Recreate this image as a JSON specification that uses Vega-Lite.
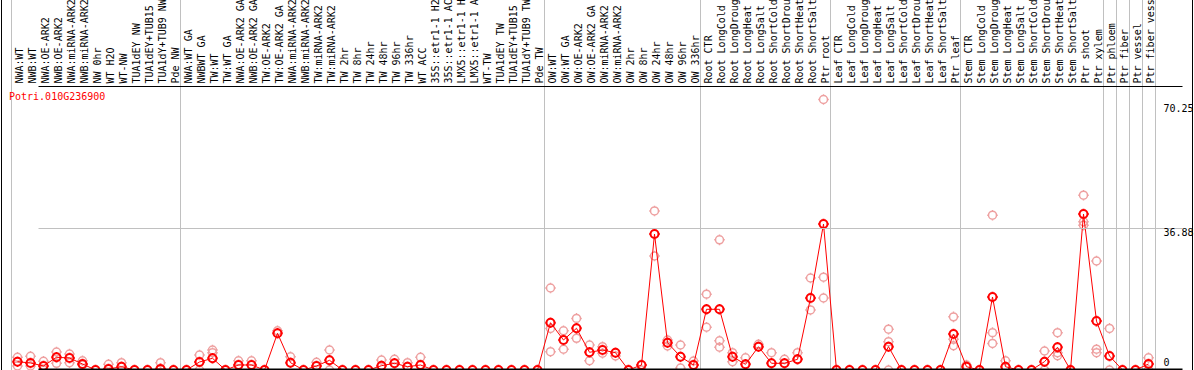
{
  "$schema": "https://vega.github.io/schema/vega-lite/v6.json",
  "autosize": "none",
  "width": 1191,
  "height": 372,
  "padding": {"left": 1, "top": -2, "right": 2, "bottom": 0},
  "background": "white",
  "config": {"view": {"stroke": "black", "strokeWidth": 1}, "font": "DejaVu Sans Mono"},
  "datasets": {
    "means": [
      {"sample": "NWA:WT", "mean": 2.16}, {"sample": "NWB:WT", "mean": 1.82}, {"sample": "NWA:OE-ARK2", "mean": 1.04}, {"sample": "NWB:OE-ARK2", "mean": 3.3},
      {"sample": "NWA:miRNA-ARK2", "mean": 3.12}, {"sample": "NWB:miRNA-ARK2", "mean": 1.56}, {"sample": "NW 0hr", "mean": 0}, {"sample": "WT H2O", "mean": 0.26},
      {"sample": "WT-NW", "mean": 0.86}, {"sample": "TUA1dEY NW", "mean": 0}, {"sample": "TUA1dEY+TUB15 NW", "mean": 0}, {"sample": "TUA1dY+TUB9 NW", "mean": 0.3},
      {"sample": "Pde NW", "mean": 0}, {"sample": "NWA:WT GA", "mean": 0}, {"sample": "NWBWT GA", "mean": 2.08}, {"sample": "TW:WT", "mean": 3.04},
      {"sample": "TW:WT GA", "mean": 0}, {"sample": "NWA:OE-ARK2 GA", "mean": 1.3}, {"sample": "NWB:OE-ARK2 GA", "mean": 1.3}, {"sample": "TW:OE-ARK2", "mean": 0},
      {"sample": "TW:OE-ARK2 GA", "mean": 9.53}, {"sample": "NWA:miRNA-ARK2 GA", "mean": 1.9}, {"sample": "NWB:miRNA-ARK2 GA", "mean": 0}, {"sample": "TW:miRNA-ARK2", "mean": 1.04},
      {"sample": "TW:miRNA-ARK2 GA", "mean": 2.52}, {"sample": "TW 2hr", "mean": 0}, {"sample": "TW 8hr", "mean": 0}, {"sample": "TW 24hr", "mean": 0},
      {"sample": "TW 48hr", "mean": 1.12}, {"sample": "TW 96hr", "mean": 1.74}, {"sample": "TW 336hr", "mean": 0.86}, {"sample": "WT ACC", "mean": 1.3},
      {"sample": "35S::etr1-1 H2O", "mean": 0}, {"sample": "35S::etr1-1 ACC", "mean": 0}, {"sample": "LMX5::etr1-1 H2O", "mean": 0}, {"sample": "LMX5::etr1-1 ACC", "mean": 0},
      {"sample": "WT-TW", "mean": 0}, {"sample": "TUA1dEY TW", "mean": 0}, {"sample": "TUA1dEY+TUB15 TW", "mean": 0}, {"sample": "TUA1dY+TUB9 TW", "mean": 0},
      {"sample": "Pde TW", "mean": 0}, {"sample": "OW:WT", "mean": 12.28}, {"sample": "OW:WT GA", "mean": 7.79}, {"sample": "OW:OE-ARK2", "mean": 10.83},
      {"sample": "OW:OE-ARK2 GA", "mean": 4.6}, {"sample": "OW:miRNA-ARK2", "mean": 5.19}, {"sample": "OW:miRNA-ARK2 GA", "mean": 4.49}, {"sample": "OW 2hr", "mean": 0},
      {"sample": "OW 8hr", "mean": 1.3}, {"sample": "OW 24hr", "mean": 35.3}, {"sample": "OW 48hr", "mean": 7.09}, {"sample": "OW 96hr", "mean": 3.45},
      {"sample": "OW 336hr", "mean": 1.3}, {"sample": "Root CTR", "mean": 15.76}, {"sample": "Root LongCold", "mean": 15.76}, {"sample": "Root LongDrought", "mean": 3.45},
      {"sample": "Root LongHeat", "mean": 1.48}, {"sample": "Root LongSalt", "mean": 6.05}, {"sample": "Root ShortCold", "mean": 1.74}, {"sample": "Root ShortDrought", "mean": 1.74},
      {"sample": "Root ShortHeat", "mean": 2.78}, {"sample": "Root ShortSalt", "mean": 18.7}, {"sample": "Ptr root", "mean": 37.9}, {"sample": "Leaf CTR", "mean": 0},
      {"sample": "Leaf LongCold", "mean": 0}, {"sample": "Leaf LongDrought", "mean": 0}, {"sample": "Leaf LongHeat", "mean": 0}, {"sample": "Leaf LongSalt", "mean": 6.05},
      {"sample": "Leaf ShortCold", "mean": 0}, {"sample": "Leaf ShortDrought", "mean": 0}, {"sample": "Leaf ShortHeat", "mean": 0}, {"sample": "Leaf ShortSalt", "mean": 0},
      {"sample": "Ptr leaf", "mean": 9.35}, {"sample": "Stem CTR", "mean": 0.86}, {"sample": "Stem LongCold", "mean": 0}, {"sample": "Stem LongDrought", "mean": 18.96},
      {"sample": "Stem LongHeat", "mean": 0.86}, {"sample": "Stem LongSalt", "mean": 0}, {"sample": "Stem ShortCold", "mean": 0}, {"sample": "Stem ShortDrought", "mean": 2.16},
      {"sample": "Stem ShortHeat", "mean": 5.89}, {"sample": "Stem ShortSalt", "mean": 0}, {"sample": "Ptr shoot", "mean": 40.5}, {"sample": "Ptr xylem", "mean": 12.7},
      {"sample": "Ptr phloem", "mean": 3.64}, {"sample": "Ptr fiber", "mean": 0}, {"sample": "Ptr vessel", "mean": 0}, {"sample": "Ptr fiber vessel", "mean": 1.56}
    ],
    "reps": [
      {"sample": "NWA:WT", "value": 3.3}, {"sample": "NWA:WT", "value": 1.04},
      {"sample": "NWB:WT", "value": 3.56}, {"sample": "NWB:WT", "value": 1.04},
      {"sample": "NWA:OE-ARK2", "value": 2.26}, {"sample": "NWA:OE-ARK2", "value": 0},
      {"sample": "NWB:OE-ARK2", "value": 4.67}, {"sample": "NWB:OE-ARK2", "value": 1.74},
      {"sample": "NWA:miRNA-ARK2", "value": 4.15}, {"sample": "NWA:miRNA-ARK2", "value": 1.9},
      {"sample": "NWB:miRNA-ARK2", "value": 2.41}, {"sample": "NWB:miRNA-ARK2", "value": 1.3},
      {"sample": "WT H2O", "value": 1.48}, {"sample": "WT-NW", "value": 1.9}, {"sample": "TUA1dY+TUB9 NW", "value": 1.9},
      {"sample": "NWBWT GA", "value": 3.9}, {"sample": "NWBWT GA", "value": 0},
      {"sample": "TW:WT", "value": 5.19}, {"sample": "TW:WT", "value": 4.49},
      {"sample": "NWA:OE-ARK2 GA", "value": 2.41}, {"sample": "NWB:OE-ARK2 GA", "value": 2.41},
      {"sample": "TW:OE-ARK2 GA", "value": 10.2}, {"sample": "NWA:miRNA-ARK2 GA", "value": 3.45},
      {"sample": "TW:miRNA-ARK2", "value": 2.0}, {"sample": "TW:miRNA-ARK2 GA", "value": 5.19}, {"sample": "TW:miRNA-ARK2 GA", "value": 0},
      {"sample": "TW 48hr", "value": 2.6}, {"sample": "TW 96hr", "value": 2.78}, {"sample": "TW 336hr", "value": 1.9}, {"sample": "WT ACC", "value": 3.3},
      {"sample": "OW:WT", "value": 21.3}, {"sample": "OW:WT", "value": 4.75}, {"sample": "OW:WT", "value": 10.8},
      {"sample": "OW:WT GA", "value": 10.2}, {"sample": "OW:WT GA", "value": 5.38},
      {"sample": "OW:OE-ARK2", "value": 13.4}, {"sample": "OW:OE-ARK2", "value": 8.23},
      {"sample": "OW:OE-ARK2 GA", "value": 6.49}, {"sample": "OW:OE-ARK2 GA", "value": 2.41},
      {"sample": "OW:miRNA-ARK2", "value": 6.05}, {"sample": "OW:miRNA-ARK2", "value": 4.34},
      {"sample": "OW:miRNA-ARK2 GA", "value": 3.64}, {"sample": "OW 8hr", "value": 0},
      {"sample": "OW 24hr", "value": 41.3}, {"sample": "OW 24hr", "value": 29.6},
      {"sample": "OW 48hr", "value": 6.23}, {"sample": "OW 48hr", "value": 7.79},
      {"sample": "OW 96hr", "value": 6.49}, {"sample": "OW 96hr", "value": 0.5},
      {"sample": "OW 336hr", "value": 2.34},
      {"sample": "Root CTR", "value": 11.1}, {"sample": "Root CTR", "value": 19.7},
      {"sample": "Root LongCold", "value": 7.6}, {"sample": "Root LongCold", "value": 5.9}, {"sample": "Root LongCold", "value": 33.8},
      {"sample": "Root LongDrought", "value": 4.49}, {"sample": "Root LongDrought", "value": 2.16},
      {"sample": "Root LongHeat", "value": 3.19}, {"sample": "Root LongSalt", "value": 6.67}, {"sample": "Root ShortCold", "value": 4.49},
      {"sample": "Root ShortDrought", "value": 2.78}, {"sample": "Root ShortHeat", "value": 4.49},
      {"sample": "Root ShortSalt", "value": 23.9}, {"sample": "Root ShortSalt", "value": 15.6},
      {"sample": "Ptr root", "value": 70.25}, {"sample": "Ptr root", "value": 24.1}, {"sample": "Ptr root", "value": 18.7},
      {"sample": "Leaf LongSalt", "value": 10.6}, {"sample": "Leaf LongSalt", "value": 7.35}, {"sample": "Leaf LongSalt", "value": 0},
      {"sample": "Ptr leaf", "value": 13.8}, {"sample": "Ptr leaf", "value": 7.97}, {"sample": "Ptr leaf", "value": 6.3},
      {"sample": "Stem CTR", "value": 1.3},
      {"sample": "Stem LongDrought", "value": 40.2}, {"sample": "Stem LongDrought", "value": 9.7}, {"sample": "Stem LongDrought", "value": 6.9},
      {"sample": "Stem LongHeat", "value": 2.41},
      {"sample": "Stem ShortDrought", "value": 4.93}, {"sample": "Stem ShortDrought", "value": 0},
      {"sample": "Stem ShortHeat", "value": 9.69}, {"sample": "Stem ShortHeat", "value": 4.49}, {"sample": "Stem ShortHeat", "value": 3.71},
      {"sample": "Ptr shoot", "value": 45.4}, {"sample": "Ptr shoot", "value": 38.5}, {"sample": "Ptr shoot", "value": 37.6},
      {"sample": "Ptr xylem", "value": 28.3}, {"sample": "Ptr xylem", "value": 5.4}, {"sample": "Ptr xylem", "value": 4.5},
      {"sample": "Ptr phloem", "value": 10.8}, {"sample": "Ptr phloem", "value": 0},
      {"sample": "Ptr fiber vessel", "value": 3.19}, {"sample": "Ptr fiber vessel", "value": 0}
    ]
  },
  "layer": [
    {
      "data": {"name": "reps"},
      "mark": {"type": "point", "shape": "M0.75,0A0.75,0.75,0,1,1,-0.75,0A0.75,0.75,0,1,1,0.75,0M0,-0.75L0,-1M0,0.75L0,1M-0.75,0L-1,0M0.75,0L1,0", "filled": false, "size": 112, "stroke": "#eea0a0", "strokeWidth": 1.5, "opacity": 1, "clip": true},
      "encoding": {
        "x": {
          "field": "sample", "type": "nominal",
          "scale": {
            "type": "band", "range": [10, 1154], "paddingInner": 0, "paddingOuter": 0,
            "domain": ["NWA:WT","NWB:WT","NWA:OE-ARK2","NWB:OE-ARK2","NWA:miRNA-ARK2","NWB:miRNA-ARK2","NW 0hr","WT H2O","WT-NW","TUA1dEY NW","TUA1dEY+TUB15 NW","TUA1dY+TUB9 NW","Pde NW","NWA:WT GA","NWBWT GA","TW:WT","TW:WT GA","NWA:OE-ARK2 GA","NWB:OE-ARK2 GA","TW:OE-ARK2","TW:OE-ARK2 GA","NWA:miRNA-ARK2 GA","NWB:miRNA-ARK2 GA","TW:miRNA-ARK2","TW:miRNA-ARK2 GA","TW 2hr","TW 8hr","TW 24hr","TW 48hr","TW 96hr","TW 336hr","WT ACC","35S::etr1-1 H2O","35S::etr1-1 ACC","LMX5::etr1-1 H2O","LMX5::etr1-1 ACC","WT-TW","TUA1dEY TW","TUA1dEY+TUB15 TW","TUA1dY+TUB9 TW","Pde TW","OW:WT","OW:WT GA","OW:OE-ARK2","OW:OE-ARK2 GA","OW:miRNA-ARK2","OW:miRNA-ARK2 GA","OW 2hr","OW 8hr","OW 24hr","OW 48hr","OW 96hr","OW 336hr","Root CTR","Root LongCold","Root LongDrought","Root LongHeat","Root LongSalt","Root ShortCold","Root ShortDrought","Root ShortHeat","Root ShortSalt","Ptr root","Leaf CTR","Leaf LongCold","Leaf LongDrought","Leaf LongHeat","Leaf LongSalt","Leaf ShortCold","Leaf ShortDrought","Leaf ShortHeat","Leaf ShortSalt","Ptr leaf","Stem CTR","Stem LongCold","Stem LongDrought","Stem LongHeat","Stem LongSalt","Stem ShortCold","Stem ShortDrought","Stem ShortHeat","Stem ShortSalt","Ptr shoot","Ptr xylem","Ptr phloem","Ptr fiber","Ptr vessel","Ptr fiber vessel"]
          },
          "axis": {
            "orient": "top", "offset": -88, "title": null, "domain": false, "ticks": false,
            "labelAngle": 270, "labelAlign": "left", "labelBaseline": "middle", "labelPadding": 3, "labelOffset": 1.5,
            "labelFont": "DejaVu Sans Mono", "labelFontSize": 10, "labelColor": "black", "labelOverlap": false,
            "tickBand": "extent", "grid": true, "gridColor": "#c0c0c0", "gridWidth": 1,
            "gridOpacity": {"condition": {"test": "datum.extra || indexof(['Pde NW','Pde TW','OW 336hr','Ptr root','Ptr leaf','Ptr xylem','Ptr phloem','Ptr fiber','Ptr vessel','Ptr fiber vessel'], datum.value) >= 0", "value": 1}, "value": 0}
          }
        },
        "y": {
          "field": "value", "type": "quantitative",
          "scale": {"domain": [0, 96.6], "zero": false, "nice": false},
          "axis": {
            "orient": "right", "offset": -30, "title": null, "domain": false, "ticks": false, "zindex": 1,
            "values": [0, 0.26, 36.88, 70.25, 73.75], "format": ".4~r",
            "labelFont": "DejaVu Sans Mono", "labelFontSize": 10, "labelColor": "black", "labelAlign": "left", "labelPadding": 1,
            "labelFlush": false, "labelOverlap": false,
            "labelBaseline": {"condition": {"test": "datum.value == 0", "value": "alphabetic"}, "value": "top"},
            "labelOffset": {"condition": [{"test": "datum.value == 0", "value": -4.5}, {"test": "datum.value == 70.25", "value": 4}], "value": 0},
            "labelOpacity": {"condition": {"test": "datum.value > 73 || (datum.value > 0 && datum.value < 1)", "value": 0}, "value": 1},
            "grid": true,
            "gridWidth": {"condition": {"test": "datum.value > 0 && datum.value < 1", "value": 2}, "value": 1},
            "gridColor": {"condition": {"test": "datum.value > 73 || (datum.value > 0 && datum.value < 1)", "value": "black"}, "value": "#c0c0c0"},
            "gridOpacity": {"condition": {"test": "datum.value == 36.88 || datum.value > 73 || (datum.value > 0 && datum.value < 1)", "value": 1}, "value": 0}
          }
        }
      }
    },
    {
      "data": {"name": "means"},
      "mark": {"type": "line", "color": "#ff0000", "strokeWidth": 1, "clip": true},
      "encoding": {
        "x": {"field": "sample", "type": "nominal"},
        "y": {"field": "mean", "type": "quantitative"},
        "order": {"value": null}
      }
    },
    {
      "data": {"name": "means"},
      "mark": {"type": "point", "shape": "M0.75,0A0.75,0.75,0,1,1,-0.75,0A0.75,0.75,0,1,1,0.75,0M0,-0.75L0,-1M0,0.75L0,1M-0.75,0L-1,0M0.75,0L1,0", "filled": false, "size": 112, "stroke": "#ff0000", "strokeWidth": 2, "opacity": 1, "clip": true},
      "encoding": {
        "x": {"field": "sample", "type": "nominal"},
        "y": {"field": "mean", "type": "quantitative"}
      }
    },
    {
      "data": {"values": [{"gene": "Potri.010G236900"}]},
      "mark": {"type": "text", "color": "#ff0000", "align": "left", "baseline": "middle", "font": "DejaVu Sans Mono", "fontSize": 10, "dx": -2},
      "encoding": {
        "x": {"datum": "NWA:WT", "bandPosition": 0},
        "y": {"datum": 70.9},
        "text": {"field": "gene"}
      }
    }
  ]
}
